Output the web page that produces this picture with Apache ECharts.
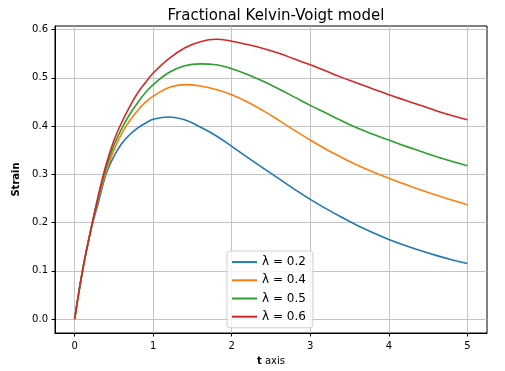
<!DOCTYPE html>
<html>
<head>
<meta charset="utf-8">
<script src="https://cdn.jsdelivr.net/npm/echarts@6/dist/echarts.min.js"></script>
<style>
html,body{margin:0;padding:0;background:#fff;}
#chart{width:505px;height:371px;}
</style>
</head>
<body>
<div id="chart"></div>
<script>
// ---- data ----
const tValues = [0, 0.1, 0.2, 0.3, 0.4, 0.5, 0.6, 0.7, 0.8, 0.9, 1.0,
  1.2, 1.4, 1.6, 1.8, 2.0, 2.2, 2.4, 2.6, 2.8, 3.0, 3.2, 3.4, 3.6, 3.8, 4.0, 4.2, 4.4, 4.6, 4.8, 5.0];
const lambda02 = [0, 0.10, 0.18, 0.240, 0.300, 0.337, 0.364, 0.382, 0.396, 0.406, 0.414,
  0.419, 0.413, 0.398, 0.380, 0.358, 0.335, 0.313, 0.291, 0.269, 0.248, 0.229, 0.211, 0.194, 0.179, 0.165, 0.153, 0.142, 0.132, 0.123, 0.115];
const lambda04 = [0, 0.10, 0.18, 0.248, 0.305, 0.350, 0.385, 0.411, 0.432, 0.449, 0.462,
  0.480, 0.486, 0.483, 0.476, 0.465, 0.450, 0.432, 0.412, 0.391, 0.371, 0.352, 0.335, 0.319, 0.305, 0.292, 0.280, 0.268, 0.257, 0.247, 0.237];
const lambda05 = [0, 0.10, 0.18, 0.252, 0.313, 0.360, 0.395, 0.424, 0.448, 0.469, 0.486,
  0.511, 0.525, 0.529, 0.527, 0.519, 0.507, 0.493, 0.477, 0.460, 0.443, 0.427, 0.411, 0.396, 0.383, 0.371, 0.359, 0.348, 0.337, 0.327, 0.318];
const lambda06 = [0, 0.10, 0.18, 0.255, 0.320, 0.370, 0.408, 0.440, 0.468, 0.490, 0.510,
  0.540, 0.562, 0.575, 0.580, 0.576, 0.569, 0.561, 0.551, 0.539, 0.527, 0.514, 0.501, 0.489, 0.477, 0.465, 0.454, 0.443, 0.432, 0.422, 0.413];
const seriesNames = ['λ = 0.2', 'λ = 0.4', 'λ = 0.5', 'λ = 0.6'];
const xTicks = [0, 1, 2, 3, 4, 5];
const yTicks = [0.0, 0.1, 0.2, 0.3, 0.4, 0.5, 0.6];

const colors = ['#1f77b4', '#ff7f0e', '#2ca02c', '#d62728'];
const allSeries = [lambda02, lambda04, lambda05, lambda06];
const FONT = 'DejaVu Sans';

const chart = echarts.init(document.getElementById('chart'), null, {renderer: 'canvas'});
chart.setOption({
  animation: false,
  backgroundColor: '#ffffff',
  textStyle: {fontFamily: FONT},
  title: {
    text: 'Fractional Kelvin-Voigt model',
    left: 271, top: 4, textAlign: 'center',
    textStyle: {fontFamily: FONT, fontSize: 15, fontWeight: 'normal', color: '#000'}
  },
  grid: {left: 55, right: 18, top: 26, bottom: 38, show: true, borderColor: '#000', borderWidth: 1, backgroundColor: 'transparent'},
  legend: {
    orient: 'vertical', left: 227, top: 251,
    data: seriesNames,
    icon: 'rect', itemWidth: 25, itemHeight: 2, itemGap: 4,
    padding: [4, 7, 4, 5],
    backgroundColor: 'rgba(255,255,255,0.8)', borderColor: '#d0d0d0', borderWidth: 1, borderRadius: 3,
    textStyle: {fontFamily: FONT, fontSize: 12, color: '#000', lineHeight: 14.2}
  },
  xAxis: {
    type: 'value', min: -0.25, max: 5.25,
    name: '{b|t} axis', nameLocation: 'middle', nameGap: 23,
    nameTextStyle: {fontFamily: FONT, fontSize: 10, color: '#000', rich: {b: {fontFamily: FONT, fontSize: 10, fontWeight: 'bold', color: '#000'}}},
    axisLine: {show: true, onZero: false, lineStyle: {color: '#000', width: 1}},
    axisTick: {show: true, length: 3.5, lineStyle: {color: '#000'}, customValues: xTicks},
    axisLabel: {customValues: xTicks, fontFamily: FONT, fontSize: 10, color: '#000', margin: 8, formatter: v => String(v)},
    splitLine: {show: true, lineStyle: {color: '#c4c4c4', width: 1}}
  },
  yAxis: {
    type: 'value', min: -0.0289, max: 0.6075,
    name: 'Strain', nameLocation: 'middle', nameGap: 28,
    nameTextStyle: {fontFamily: FONT, fontSize: 10, fontWeight: 'bold', color: '#000'},
    axisLine: {show: true, onZero: false, lineStyle: {color: '#000', width: 1}},
    axisTick: {show: true, length: 3.5, lineStyle: {color: '#000'}, customValues: yTicks},
    axisLabel: {customValues: yTicks, fontFamily: FONT, fontSize: 10, color: '#000', margin: 7, formatter: v => v.toFixed(1)},
    splitLine: {show: true, lineStyle: {color: '#c4c4c4', width: 1}}
  },
  series: allSeries.map((vals, i) => ({
    type: 'line', name: seriesNames[i],
    data: tValues.map((t, j) => [t, vals[j]]),
    smooth: 0.4, symbol: 'none',
    lineStyle: {color: colors[i], width: 1.6},
    itemStyle: {color: colors[i]}
  }))
});
</script>
</body>
</html>
